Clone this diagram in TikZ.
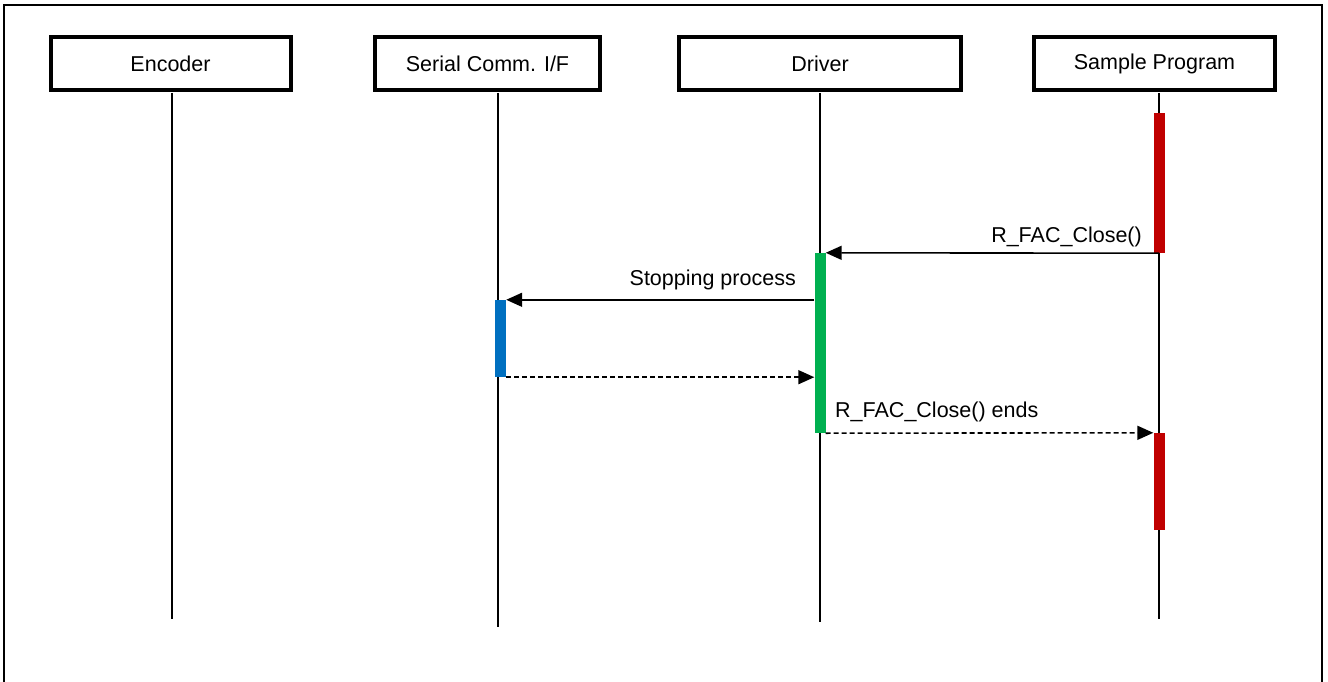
\documentclass[tikz,border=0pt]{standalone}
\usepackage{fontspec}
\setmainfont{Liberation Sans}
\usetikzlibrary{arrows.meta}
\definecolor{barred}{HTML}{C00000}
\definecolor{bargreen}{HTML}{00B050}
\definecolor{barblue}{HTML}{0070C0}
\begin{document}
\begin{tikzpicture}[x=1pt,y=-1pt,
  every node/.style={font=\fontsize{21.5}{25}\selectfont},
  objbox/.style={draw=black,line width=4pt,fill=white,inner sep=0pt},
  lifeline/.style={line width=1.4pt},
  actbar/.style={inner sep=0pt,minimum width=11pt,draw=none},
  msg/.style={line width=1.6pt,-{Triangle[length=16pt,width=14pt]}},
  ret/.style={msg,dash pattern=on 5pt off 3pt},
  lbl/.style={inner sep=0pt}]
\useasboundingbox (0,0) rectangle (1328,682);
\draw[line width=1.5pt] (4,700) -- (4,5) -- (1322,5) -- (1322,700);
% objects
\node[objbox,minimum width=240pt,minimum height=53pt] (enc) at (170.5,64) {Encoder};
\node[objbox,minimum width=225pt,minimum height=53pt] (ser) at (487.5,64) {Serial Comm. I/F};
\node[objbox,minimum width=282pt,minimum height=53pt] (drv) at (820,64) {Driver};
\node[objbox,minimum width=241pt,minimum height=53pt] (smp) at (1154.5,64) {Sample Program};
% lifeline ends
\coordinate (encT) at (172,93); \coordinate (encB) at (172,619);
\coordinate (serT) at (498,93); \coordinate (serB) at (498,627);
\coordinate (drvT) at (820,93); \coordinate (drvB) at (820,622);
\coordinate (smpT) at (1159,93); \coordinate (smpB) at (1159,619);
\draw[lifeline] (encT) -- (encB);
\draw[lifeline] (serT) -- (serB);
\draw[lifeline] (drvT) -- (drvB);
\draw[lifeline] (smpT) -- (smpB);
% activation bars
\node[actbar,fill=barred,minimum height=140pt] (r1) at (1159,183) {};
\node[actbar,fill=bargreen,minimum height=180pt] (g1) at (820,343) {};
\node[actbar,fill=barblue,minimum height=77pt] (b1) at (500.5,338.5) {};
\node[actbar,fill=barred,minimum height=97pt] (r2) at (1159,481.5) {};
% messages
\draw[msg] (r1.south) -- (g1.north east);
\draw[msg] (b1.north east -| g1.west) -- (b1.north east);
\draw[ret] (b1.south east) -- (b1.south east -| g1.west);
\draw[ret] (g1.south east) -- (r2.north west);
% labels
\node[lbl,anchor=east] (l1) at (1142,237) {R\_FAC\_Close()};
\node[lbl,anchor=east] (l2) at (796,280) {Stopping process};
\node[lbl,anchor=west] (l3) at (835,412) {R\_FAC\_Close() ends};
\end{tikzpicture}
\end{document}
